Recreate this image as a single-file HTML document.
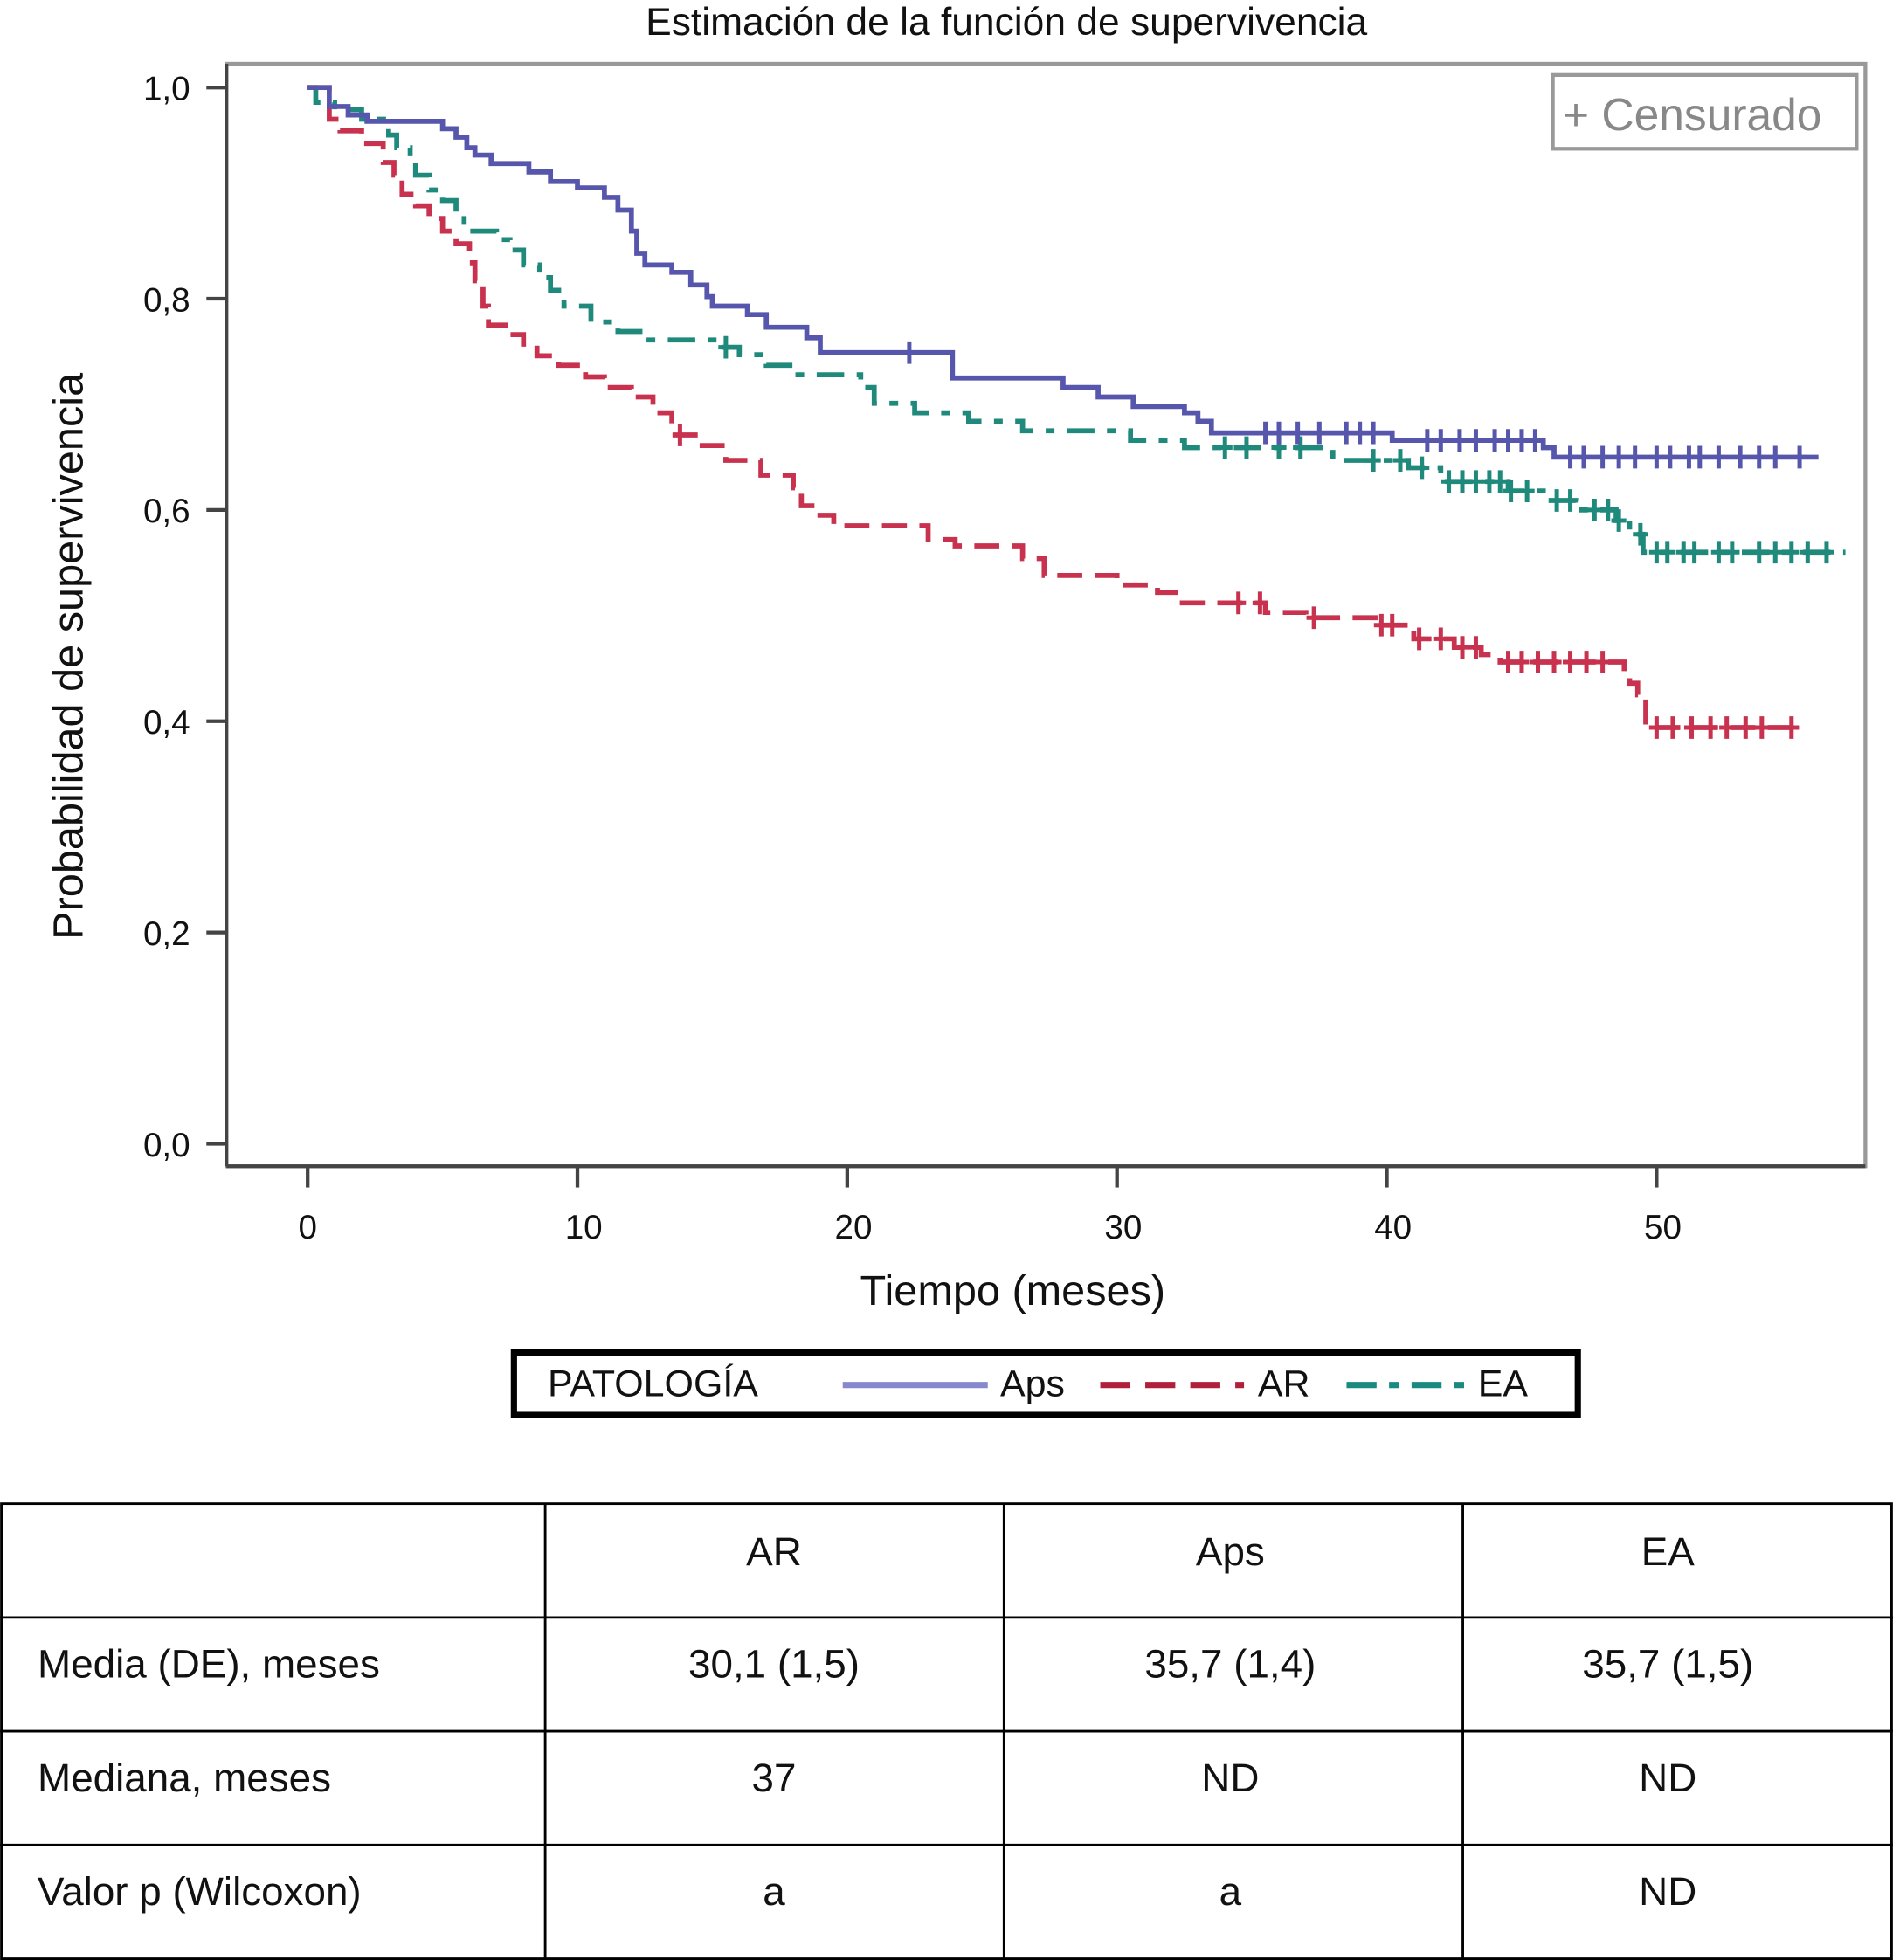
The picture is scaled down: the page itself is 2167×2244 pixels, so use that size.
<!DOCTYPE html>
<html><head><meta charset="utf-8"><style>
html,body{margin:0;padding:0;background:#fff}
svg{display:block}
text{font-family:"Liberation Sans",sans-serif;fill:#111}
</style></head><body>
<svg id="chart" width="2167" height="2244" viewBox="0 0 1514 1568" xmlns="http://www.w3.org/2000/svg">
<rect width="1514" height="1568" fill="#fff"/>
<text x="805" y="28" font-size="31" text-anchor="middle">Estimación de la función de supervivencia</text>
<rect x="181" y="51" width="1311" height="882" fill="none" stroke="#999" stroke-width="3"/>
<line x1="181" y1="933" x2="1492" y2="933" stroke="#444" stroke-width="3"/>
<line x1="181" y1="51" x2="181" y2="933" stroke="#444" stroke-width="3"/>
<g id="yticks"></g><g id="xticks"></g>
<text transform="translate(66,525) rotate(-90)" font-size="34" text-anchor="middle">Probabilidad de supervivencia</text>
<text x="810" y="1044" font-size="34" text-anchor="middle">Tiempo (meses)</text>
<g id="series"></g>
<g>
<rect x="1242" y="60" width="243" height="59" fill="#fff" stroke="#999" stroke-width="3"/>
<text x="1250" y="104" font-size="36" fill="#888" style="fill:#888">+ Censurado</text>
</g>
<g>
<rect x="411" y="1082" width="851" height="50" fill="#fff" stroke="#000" stroke-width="5"/>
<text x="438" y="1117" font-size="30">PATOLOGÍA</text>
<line x1="674" y1="1108" x2="790" y2="1108" stroke="#8888cc" stroke-width="5"/>
<text x="800" y="1117" font-size="30">Aps</text>
<line x1="880" y1="1108" x2="995" y2="1108" stroke="#b0203c" stroke-width="5" stroke-dasharray="24,12"/>
<text x="1006" y="1117" font-size="30">AR</text>
<line x1="1077" y1="1108" x2="1172" y2="1108" stroke="#1a8a80" stroke-width="5" stroke-dasharray="24,10,8,10"/>
<text x="1182" y="1117" font-size="30">EA</text>
</g>
<g font-size="32">
<rect x="1" y="1203" width="1512" height="364" fill="none" stroke="#000" stroke-width="2"/>
<line x1="0" y1="1294" x2="1514" y2="1294" stroke="#000" stroke-width="2"/>
<line x1="0" y1="1385" x2="1514" y2="1385" stroke="#000" stroke-width="2"/>
<line x1="0" y1="1476" x2="1514" y2="1476" stroke="#000" stroke-width="2"/>
<line x1="436" y1="1203" x2="436" y2="1568" stroke="#000" stroke-width="2"/>
<line x1="803" y1="1203" x2="803" y2="1568" stroke="#000" stroke-width="2"/>
<line x1="1170" y1="1203" x2="1170" y2="1568" stroke="#000" stroke-width="2"/>
<g text-anchor="middle">
<text x="619" y="1252">AR</text><text x="984" y="1252">Aps</text><text x="1334" y="1252">EA</text>
<text x="619" y="1342">30,1 (1,5)</text><text x="984" y="1342">35,7 (1,4)</text><text x="1334" y="1342">35,7 (1,5)</text>
<text x="619" y="1433">37</text><text x="984" y="1433">ND</text><text x="1334" y="1433">ND</text>
<text x="619" y="1524">a</text><text x="984" y="1524">a</text><text x="1334" y="1524">ND</text>
</g>
<text x="30" y="1342">Media (DE), meses</text>
<text x="30" y="1433">Mediana, meses</text>
<text x="30" y="1524">Valor p (Wilcoxon)</text>
</g>
</svg>
<script>
const yTicks=[0,0.2,0.4,0.6,0.8,1.0];
const yTickLabels=["0,0","0,2","0,4","0,6","0,8","1,0"];
const xTicks=[0,10,20,30,40,50];
const xTickLabels=["0","10","20","30","40","50"];
const apsTimes=[0,0.8,1.5,2.2,5,5.5,5.9,6.2,6.8,8.2,9,10,11,11.5,12,12.2,12.5,13.5,14.2,14.8,15,16.3,17,18.5,19,23.9,28,29.3,30.6,32.5,33,33.5,40.2,45.8,46.2,56];
const apsSurv=[1,0.982,0.974,0.968,0.961,0.953,0.943,0.936,0.928,0.920,0.911,0.905,0.896,0.884,0.864,0.843,0.832,0.825,0.813,0.802,0.793,0.785,0.773,0.763,0.749,0.725,0.716,0.707,0.698,0.692,0.684,0.673,0.666,0.659,0.650,0.650];
const apsCens=[22.3,35.5,36,36.7,37.5,38.5,39,39.5,41.5,42,42.7,43.3,44,44.5,45,45.5,46.8,47.3,48,48.6,49.2,50,50.5,51.2,51.6,52.3,53.1,53.8,54.4,55.3];
const arTimes=[0,0.8,1.2,2,2.8,3.2,3.5,4,4.5,5,5.5,6,6.2,6.5,6.7,7.5,8,8.5,9.3,10.3,11,12,12.8,13.5,14.5,15.5,16.8,18,18.3,18.8,19.5,23,24,26.5,27.3,30,31.5,32.3,35.5,37,39.7,41,42.5,43.5,44.2,48.8,49,49.3,49.6,55.3];
const arSurv=[1,0.970,0.959,0.947,0.929,0.917,0.899,0.888,0.876,0.864,0.852,0.834,0.817,0.793,0.775,0.766,0.757,0.746,0.737,0.726,0.716,0.707,0.692,0.671,0.661,0.647,0.633,0.621,0.604,0.595,0.585,0.572,0.566,0.554,0.538,0.529,0.522,0.512,0.503,0.498,0.491,0.478,0.470,0.463,0.456,0.446,0.436,0.425,0.394,0.394];
const arCens=[13.8,34.5,35.3,37.3,39.8,40.2,41.2,42,42.8,43.3,44.5,45,45.6,46.2,46.8,47.4,48,50,50.6,51.3,52,52.6,53.3,53.9,55];
const eaTimes=[0,0.3,1,2,3,3.3,3.8,4,4.5,5,5.5,5.8,7,7.5,8,8.6,9,9.5,10.5,11.5,12.5,15.2,16,17,18,20.5,21,22.5,24.5,26.5,30.5,32.5,38,40.8,42,44.5,45.8,47,48.5,49,49.5,57];
const eaSurv=[1,0.986,0.979,0.970,0.955,0.943,0.929,0.917,0.903,0.893,0.882,0.864,0.856,0.846,0.832,0.820,0.808,0.793,0.778,0.769,0.761,0.754,0.747,0.737,0.728,0.716,0.701,0.692,0.684,0.675,0.666,0.659,0.647,0.640,0.627,0.618,0.609,0.600,0.590,0.577,0.560,0.560];
const eaCens=[15.5,34,34.8,36,36.8,39.5,40.5,41.3,42.3,42.8,43.3,43.8,44.2,44.6,45.2,46.3,46.8,47.7,48.2,48.6,49.4,50,50.4,51,51.4,52.3,52.8,53.8,54.4,55,55.6,56.3];
const NS="http://www.w3.org/2000/svg";
const X=t=>246+t*(1325-246)/50;
const Y=s=>915-s*845;
function mk(tag,attrs,parent){const e=document.createElementNS(NS,tag);for(const k in attrs)e.setAttribute(k,attrs[k]);parent.appendChild(e);return e;}
const yg=document.getElementById('yticks'),xg=document.getElementById('xticks'),sg=document.getElementById('series');
yTicks.forEach((v,i)=>{
 const l=mk('line',{x1:165,x2:181,y1:Y(v),y2:Y(v),stroke:'#444','stroke-width':3},yg);
 
 
 const t=mk('text',{x:152,y:Y(v)+10,'font-size':27,'text-anchor':'end'},yg);t.textContent=yTickLabels[i];
 
 
});
xTicks.forEach((v,i)=>{
 const l=mk('line',{x1:X(v),x2:X(v),y1:933,y2:950,stroke:'#444','stroke-width':3},xg);
 
 
 const t=mk('text',{x:X(v)+(v?5:0),y:991,'font-size':27,'text-anchor':'middle'},xg);t.textContent=xTickLabels[i];
 
 
});
function survAt(ts,ss,t){let s=ss[0];for(let i=0;i<ts.length;i++){if(ts[i]<=t)s=ss[i];}return s;}
function draw(name,ts,ss,cens,color,dash){
 let d='M'+X(ts[0])+','+Y(ss[0]);
 for(let i=1;i<ts.length;i++){d+=' H'+X(ts[i])+' V'+Y(ss[i]);}
 const p=mk('path',{d:d,fill:'none',stroke:color,'stroke-width':4,'stroke-dasharray':dash},sg);
 
 
 cens.forEach(c=>{
  const x=X(c),y=Y(survAt(ts,ss,c));
  const m=mk('path',{d:`M${x},${y-9} V${y+9} M${x-6},${y} H${x+6}`,stroke:color,'stroke-width':3.5,fill:'none'},sg);
  
  
 });
}
draw('ea',eaTimes,eaSurv,eaCens,'#1f8a7c','22,10,7,10');
draw('ar',arTimes,arSurv,arCens,'#c8324e','20,10');
draw('aps',apsTimes,apsSurv,apsCens,'#5656ac','none');
</script>
</body></html>
